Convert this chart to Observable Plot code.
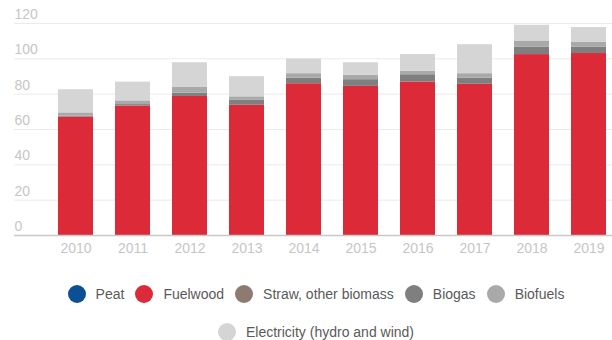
<!DOCTYPE html>
<html>
<head>
<meta charset="utf-8">
<script src="https://cdn.jsdelivr.net/npm/d3@7"></script>
<script src="https://cdn.jsdelivr.net/npm/@observablehq/plot@0.6"></script>
<style>
  html, body { margin: 0; padding: 0; background: #fff; }
  body { width: 612px; height: 340px; overflow: hidden; font-family: "Liberation Sans", Arial, sans-serif; }
  #legend { width: 592px; margin-left: 20px; display: flex; flex-wrap: wrap; justify-content: center; margin-top: 20px; row-gap: 20px; }
  .item { display: flex; align-items: center; margin: 0 5.5px; font-size: 14px; color: #5a5a5a; height: 18px; }
  .sw { width: 18px; height: 18px; border-radius: 50%; margin-right: 10px; }
</style>
</head>
<body>
<div id="chart"></div>
<div id="legend"></div>
<script>
const years = ["2010","2011","2012","2013","2014","2015","2016","2017","2018","2019"];
const seriesNames = ["Peat","Fuelwood","Straw, other biomass","Biogas","Biofuels","Electricity (hydro and wind)"];
const seriesColors = ["#0d4f95","#dc2a38","#8d7a70","#7f7f7f","#a9a9a9","#d5d5d5"];
const peat       = [0,0,0,0,0,0,0,0,0,0];
const fuelwood   = [67.0,73.3,78.7,73.7,85.9,84.4,86.9,85.6,102.4,103.0];
const straw      = [0,0,0,0,0,0,0,0,0,0];
const biogas     = [0.6,0.8,1.9,2.8,3.2,3.8,4.1,3.5,4.3,3.7];
const biofuels   = [1.8,2.1,3.4,2.0,2.5,2.5,1.9,2.5,3.4,2.8];
const electricity= [13.1,10.6,13.8,11.4,8.3,7.1,9.5,16.4,8.9,8.2];
const yTicks = [0,20,40,60,80,100,120];

const seriesValues = [peat, fuelwood, straw, biogas, biofuels, electricity];
const data = [];
seriesNames.forEach((s, i) => years.forEach((y, j) => data.push({year: y, series: s, value: seriesValues[i][j]})));

const chart = Plot.plot({
  width: 612,
  height: 265,
  marginLeft: 14,
  marginRight: 0,
  marginTop: 23,
  marginBottom: 30,
  style: {fontFamily: '"Liberation Sans", Arial, sans-serif', fontSize: "14px", background: "#fff"},
  x: {domain: years, paddingInner: 0.39, paddingOuter: 0.39, align: 0.867, label: null},
  y: {domain: [0, 120], label: null},
  color: {domain: seriesNames, range: seriesColors},
  marks: [
    Plot.ruleY(yTicks.slice(1), {stroke: "#ebebeb", strokeWidth: 1}),
    Plot.barY(data, {x: "year", y: "value", fill: "series", order: seriesNames}),
    Plot.ruleY([0], {stroke: "#c8c8c8", strokeWidth: 1.5}),
    Plot.axisY({ticks: yTicks, tickSize: 0, tickPadding: 0, textAnchor: "start", dy: -9, fill: "#c6c6c6", fontSize: 14, label: null}),
    Plot.axisX({tickSize: 0, tickPadding: 8, fill: "#c6c6c6", fontSize: 14, label: null})
  ]
});
document.getElementById("chart").appendChild(chart);

const legend = document.getElementById("legend");
seriesNames.forEach((s, i) => {
  const it = document.createElement("div");
  it.className = "item";
  const sw = document.createElement("span");
  sw.className = "sw";
  sw.style.background = seriesColors[i];
  const tx = document.createElement("span");
  tx.textContent = s;
  it.appendChild(sw); it.appendChild(tx);
  legend.appendChild(it);
});
</script>
</body>
</html>
